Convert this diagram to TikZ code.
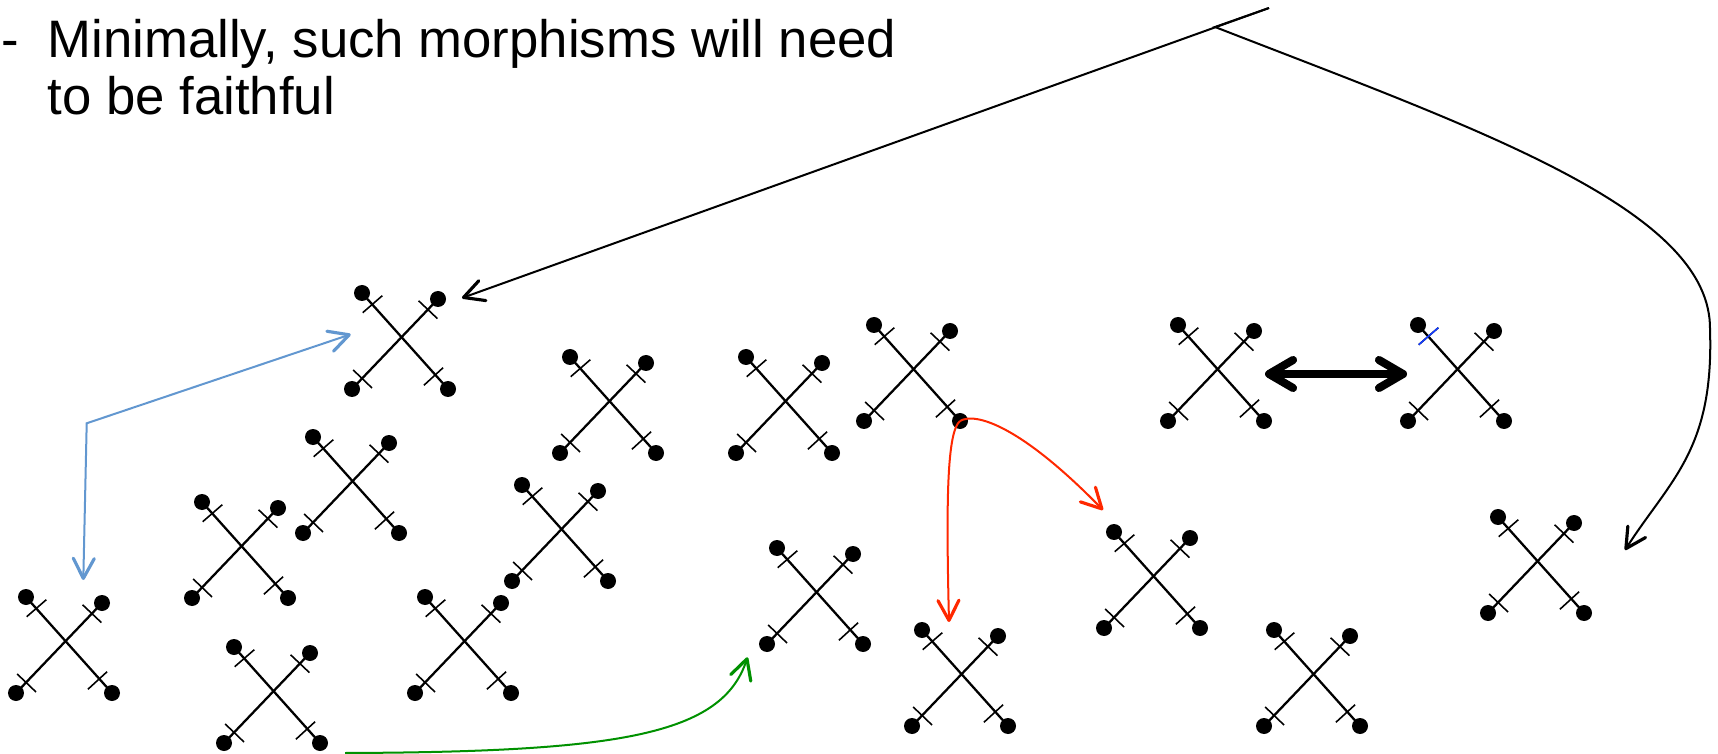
\documentclass[tikz,border=0pt]{standalone}
\usepackage{fontspec}
\newfontfamily\slidefont{Liberation Sans}
\usetikzlibrary{arrows.meta, calc}

\definecolor{linkblue}{RGB}{98,151,208}
\definecolor{linkred}{RGB}{255,40,0}
\definecolor{linkgreen}{RGB}{0,145,0}
\definecolor{tickblue}{RGB}{20,60,255}

\begin{document}
\begin{tikzpicture}[
    slide/.style={font=\slidefont\fontsize{15}{18}\selectfont, inner sep=0pt, anchor=base west},
    wire/.style={line width=0.65pt},
    tick/.style={line width=0.45pt},
    vtip/.tip={Straight Barb[length=2mm, width=2.1mm, line width=0.9pt, round]},
    link/.style={-vtip, line width=0.57pt},
    swap/.style={
      {Straight Barb[length=2.4mm, width=2.8mm, round]}-{Straight Barb[length=2.4mm, width=2.8mm, round]},
      line width=2.3pt,
    },
    knot/.pic={
      \coordinate (-tl) at (-0.39,0.45);
      \coordinate (-tr) at (0.37,0.39);
      \coordinate (-bl) at (-0.49,-0.51);
      \coordinate (-br) at (0.47,-0.51);
      \coordinate (-tla) at (-0.187,0.423);
      \coordinate (-tlb) at (-0.383,0.253);
      \draw[wire] (-tl) -- (-br);
      \draw[wire] (-tr) -- (-bl);
      \draw[tick] (-tla) -- (-tlb);
      \draw[tick] (0.364,0.194) -- (0.176,0.372);
      \draw[tick] (-0.290,-0.500) -- (-0.478,-0.320);
      \draw[tick] (0.421,-0.297) -- (0.229,-0.473);
      \foreach \c in {tl,tr,bl,br} \fill (-\c) circle (0.08);
    },
]
\useasboundingbox (0,0) rectangle (17.18,-7.54);

% Bullet text
\node[slide] (bullet) at (0.01,-0.575) {-};
\node[slide] (line1) at (0.47,-0.575) {Minimally, such morphisms will need};
\node[slide] (line2) at (0.47,-1.145) {to be faithful};

% Crossings
\foreach \n/\p in {A/{4.01,-3.38}, B/{6.09,-4.02}, C/{7.85,-4.02}, D/{9.13,-3.70},
                   E/{12.17,-3.70}, F/{14.57,-3.70}, G/{3.52,-4.82}, H/{2.41,-5.47},
                   I/{5.61,-5.30}, J/{4.64,-6.42}, K/{0.65,-6.42}, L/{2.73,-6.92},
                   M/{8.16,-5.93}, N/{9.61,-6.75}, O/{11.53,-5.77}, P/{13.13,-6.75},
                   Q/{15.37,-5.62}}
  \pic (\n) at (\p) {knot};

% Recoloured tick on F
\draw[tick, tickblue] (F-tla) -- (F-tlb);

% Black morphisms from the top
\coordinate (top) at (12.69,-0.08);
\coordinate (fork) at (12.15,-0.27);
\coordinate (toA) at (4.62,-2.98);
\coordinate (toQ) at (16.25,-5.50);
\draw[link] (top) -- (toA);
\draw[link] (top) -- (fork)
    .. controls (14.80,-1.30) and (17.12,-2.10) .. (17.10,-3.30)
    .. controls (17.14,-4.50) and (16.70,-4.80) .. (toQ);

% Blue bent double arrow
\coordinate (bluedown) at (0.833,-5.80);
\coordinate (bluebend) at (0.867,-4.233);
\coordinate (blueup) at (3.507,-3.343);
\draw[link, vtip-vtip, linkblue] (bluedown) -- (bluebend) -- (blueup);

% Red arrows out of D
\coordinate (toO) at (11.03,-5.10);
\coordinate (toN) at (9.49,-6.22);
\draw[link, linkred] (D-br) .. controls (9.75,-4.12) and (10.20,-4.25) .. (toO);
\draw[link, linkred] (D-br) .. controls (9.47,-4.32) and (9.46,-5.00) .. (toN);

% Green arrow
\coordinate (gstart) at (3.45,-7.53);
\coordinate (toM) at (7.475,-6.573);
\draw[link, linkgreen] (gstart) .. controls (6.20,-7.52) and (7.22,-7.35) .. (toM);

% Thick double arrow between E and F
\coordinate (swapL) at (12.65,-3.74);
\coordinate (swapR) at (14.07,-3.74);
\draw[swap] (swapL) -- (swapR);
\end{tikzpicture}
\end{document}
